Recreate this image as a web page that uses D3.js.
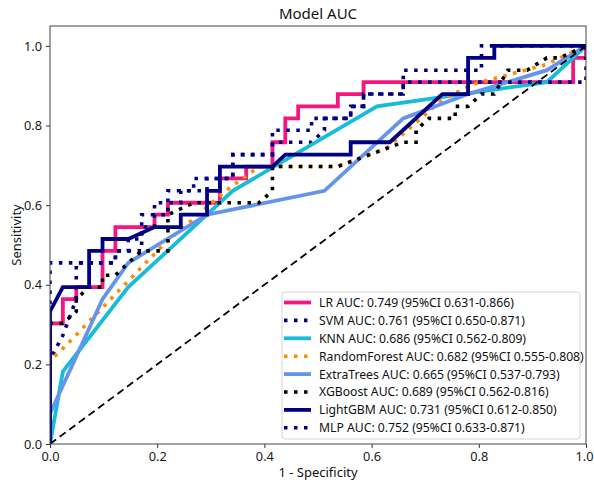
<!DOCTYPE html>
<html>
<head>
<meta charset="utf-8">
<script src="https://cdn.jsdelivr.net/npm/d3@7"></script>
<style>
  html, body { margin: 0; padding: 0; background: #fff; }
  svg { display: block; font-family: "Noto Sans", "Open Sans", sans-serif; }
</style>
</head>
<body>
<svg id="chart" width="594" height="484"></svg>
<script>
// ROC curves: false positive rate (1 - specificity) and true positive rate (sensitivity)
const lrFpr  = [0,0,0.024,0.024,0.049,0.049,0.098,0.098,0.122,0.122,0.195,0.195,0.220,0.220,0.317,0.317,0.366,0.366,0.415,0.415,0.439,0.439,0.463,0.463,0.537,0.537,0.585,0.585,0.976,0.976,1,1];
const lrTpr  = [0,0.303,0.303,0.364,0.364,0.394,0.394,0.485,0.485,0.545,0.545,0.576,0.576,0.606,0.606,0.667,0.667,0.697,0.697,0.758,0.758,0.818,0.818,0.848,0.848,0.879,0.879,0.909,0.909,0.970,0.970,1];

const svmFpr = [0,0,0.024,0.049,0.049,0.122,0.122,0.171,0.171,0.195,0.195,0.220,0.220,0.244,0.244,0.293,0.293,0.341,0.341,0.415,0.415,0.488,0.512,0.512,0.561,0.561,0.585,0.585,0.659,0.659,0.805,0.805,1];
const svmTpr = [0,0.212,0.273,0.364,0.455,0.455,0.485,0.485,0.545,0.545,0.576,0.576,0.606,0.606,0.636,0.636,0.667,0.667,0.727,0.727,0.758,0.758,0.788,0.818,0.818,0.848,0.848,0.879,0.879,0.939,0.939,1,1];

const knnFpr = [0,0.024,0.146,0.341,0.610,0.927,1];
const knnTpr = [0,0.182,0.394,0.636,0.848,0.909,1];

const rfFpr  = [0,0,0.015,0.211,0.327,0.390,0.535,0.629,0.732,0.788,0.925,1];
const rfTpr  = [0,0.212,0.227,0.500,0.635,0.697,0.697,0.744,0.865,0.903,0.953,1];

const etFpr  = [0,0,0.098,0.146,0.293,0.512,0.659,0.780,0.927,1];
const etTpr  = [0,0.076,0.364,0.455,0.576,0.636,0.818,0.879,0.939,1];

const xgbFpr = [0,0,0.024,0.049,0.049,0.073,0.098,0.098,0.122,0.146,0.171,0.220,0.220,0.268,0.390,0.415,0.415,0.537,0.659,0.683,0.683,0.707,0.756,0.756,0.780,0.805,0.829,0.854,0.890,0.927,0.951,1];
const xgbTpr = [0,0.303,0.303,0.333,0.364,0.394,0.394,0.424,0.424,0.455,0.485,0.485,0.576,0.606,0.606,0.636,0.697,0.697,0.758,0.758,0.788,0.818,0.818,0.848,0.848,0.879,0.879,0.939,0.939,0.970,0.970,1];

const lgbFpr = [0,0,0.024,0.073,0.073,0.098,0.098,0.146,0.195,0.244,0.244,0.293,0.293,0.317,0.317,0.415,0.439,0.561,0.561,0.634,0.732,0.780,0.780,0.829,0.829,1];
const lgbTpr = [0,0.333,0.394,0.394,0.485,0.485,0.515,0.515,0.545,0.545,0.576,0.576,0.636,0.636,0.697,0.697,0.727,0.727,0.758,0.758,0.879,0.879,0.970,0.970,1,1];

const mlpFpr = [0,0,0.122,0.122,0.146,0.146,0.171,0.171,0.195,0.195,0.220,0.220,0.268,0.268,0.341,0.341,0.415,0.415,0.488,0.488,0.561,0.561,0.585,0.585,0.659,0.659,1,1];
const mlpTpr = [0,0.455,0.455,0.485,0.485,0.515,0.515,0.576,0.576,0.606,0.606,0.636,0.636,0.667,0.667,0.727,0.727,0.788,0.788,0.818,0.818,0.848,0.848,0.879,0.879,0.909,0.909,1];

const modelNames = ["LR","SVM","KNN","RandomForest","ExtraTrees","XGBoost","LightGBM","MLP"];
const aucValues  = [0.749,0.761,0.686,0.682,0.665,0.689,0.731,0.752];
const ciLow      = [0.631,0.650,0.562,0.555,0.537,0.562,0.612,0.633];
const ciHigh     = [0.866,0.871,0.809,0.808,0.793,0.816,0.850,0.871];

const xTicks = [0.0,0.2,0.4,0.6,0.8,1.0];
const yTicks = [0.0,0.2,0.4,0.6,0.8,1.0];

const curves = [
  {fpr: lrFpr,  tpr: lrTpr,  color: "#f5177f", dash: null},
  {fpr: svmFpr, tpr: svmTpr, color: "#00007a", dash: "3.5,6.5"},
  {fpr: knnFpr, tpr: knnTpr, color: "#17bcd9", dash: null},
  {fpr: rfFpr,  tpr: rfTpr,  color: "#ff8c00", dash: "3.5,6.5"},
  {fpr: etFpr,  tpr: etTpr,  color: "#6495ed", dash: null},
  {fpr: xgbFpr, tpr: xgbTpr, color: "#000000", dash: "3.5,6.5"},
  {fpr: lgbFpr, tpr: lgbTpr, color: "#000080", dash: null},
  {fpr: mlpFpr, tpr: mlpTpr, color: "#00008b", dash: "3.5,6.5"}
];

const svg = d3.select("#chart");
const margin = {left: 50, top: 26, right: 8, bottom: 40};
const W = 594, H = 484;

const x = d3.scaleLinear().domain([0, 1]).range([margin.left, W - margin.right]);
const y = d3.scaleLinear().domain([0, 1.05]).range([H - margin.bottom, margin.top]);

svg.append("defs").append("clipPath").attr("id", "plotClip")
  .append("rect")
  .attr("x", x(0)).attr("y", y(1.05))
  .attr("width", x(1) - x(0)).attr("height", y(0) - y(1.05));

const plot = svg.append("g").attr("clip-path", "url(#plotClip)");

const line = d3.line().x(d => x(d[0])).y(d => y(d[1]));

curves.forEach(c => {
  const pts = c.fpr.map((f, i) => [f, c.tpr[i]]);
  plot.append("path")
    .datum(pts)
    .attr("d", line)
    .attr("fill", "none")
    .attr("stroke", c.color)
    .attr("stroke-width", c.dash ? 3.6 : 3.8)
    .attr("stroke-dasharray", c.dash)
    .attr("stroke-linejoin", "miter")
    .attr("stroke-linecap", "butt");
});

// chance line
plot.append("path")
  .datum([[0, 0], [1, 1]])
  .attr("d", line)
  .attr("fill", "none")
  .attr("stroke", "#000")
  .attr("stroke-width", 1.8)
  .attr("stroke-dasharray", "7.5,4.5");

// axes
const xAxis = svg.append("g")
  .attr("transform", `translate(0,${y(0)})`)
  .call(d3.axisBottom(x).tickValues(xTicks).tickFormat(d3.format(".1f")).tickSize(4).tickPadding(4));
const yAxis = svg.append("g")
  .attr("transform", `translate(${x(0)},0)`)
  .call(d3.axisLeft(y).tickValues(yTicks).tickFormat(d3.format(".1f")).tickSize(4).tickPadding(4));

[xAxis, yAxis].forEach(a => {
  a.select(".domain").remove();
  a.selectAll(".tick line").attr("stroke", "#333").attr("stroke-width", 1);
  a.selectAll(".tick text").attr("fill", "#1a1a1a").style("font-size", "12.8px")
    .style("font-family", "'Noto Sans', sans-serif");
});

// keep the last x tick label inside the page edge
xAxis.selectAll(".tick text")
  .filter(d => d === 1)
  .attr("text-anchor", "end")
  .attr("dx", "7px");

// frame
svg.append("rect")
  .attr("x", x(0)).attr("y", y(1.05))
  .attr("width", x(1) - x(0)).attr("height", y(0) - y(1.05))
  .attr("fill", "none").attr("stroke", "#444").attr("stroke-width", 1);

// title and axis labels
svg.append("text")
  .attr("x", (x(0) + x(1)) / 2).attr("y", 19)
  .attr("text-anchor", "middle")
  .style("font-size", "15px").attr("fill", "#111")
  .text("Model AUC");

svg.append("text")
  .attr("x", (x(0) + x(1)) / 2).attr("y", 477)
  .attr("text-anchor", "middle")
  .style("font-size", "13px").attr("fill", "#111")
  .text("1 - Specificity");

svg.append("text")
  .attr("transform", `translate(21,${(y(0) + y(1.05)) / 2}) rotate(-90)`)
  .attr("text-anchor", "middle")
  .style("font-size", "13px").attr("fill", "#111")
  .text("Sensitivity");

// legend
const legX = 282, legY = 292, legW = 298, legH = 147, rowH = 17.9;
const legend = svg.append("g");
legend.append("rect")
  .attr("x", legX).attr("y", legY).attr("width", legW).attr("height", legH)
  .attr("rx", 3).attr("fill", "#fff").attr("fill-opacity", 0.85)
  .attr("stroke", "#d4d4d4").attr("stroke-width", 1);

modelNames.forEach((name, i) => {
  const cy = legY + 10.5 + i * rowH;
  const c = curves[i];
  legend.append("line")
    .attr("x1", legX + 2).attr("x2", legX + 29)
    .attr("y1", cy).attr("y2", cy)
    .attr("stroke", c.color)
    .attr("stroke-width", c.dash ? 3.6 : 3.8)
    .attr("stroke-dasharray", c.dash);
  legend.append("text")
    .attr("x", legX + 37).attr("y", cy + 4.4)
    .style("font-size", "12.2px").attr("fill", "#111")
    .text(`${name} AUC: ${aucValues[i].toFixed(3)} (95%CI ${ciLow[i].toFixed(3)}-${ciHigh[i].toFixed(3)})`);
});
</script>
</body>
</html>
